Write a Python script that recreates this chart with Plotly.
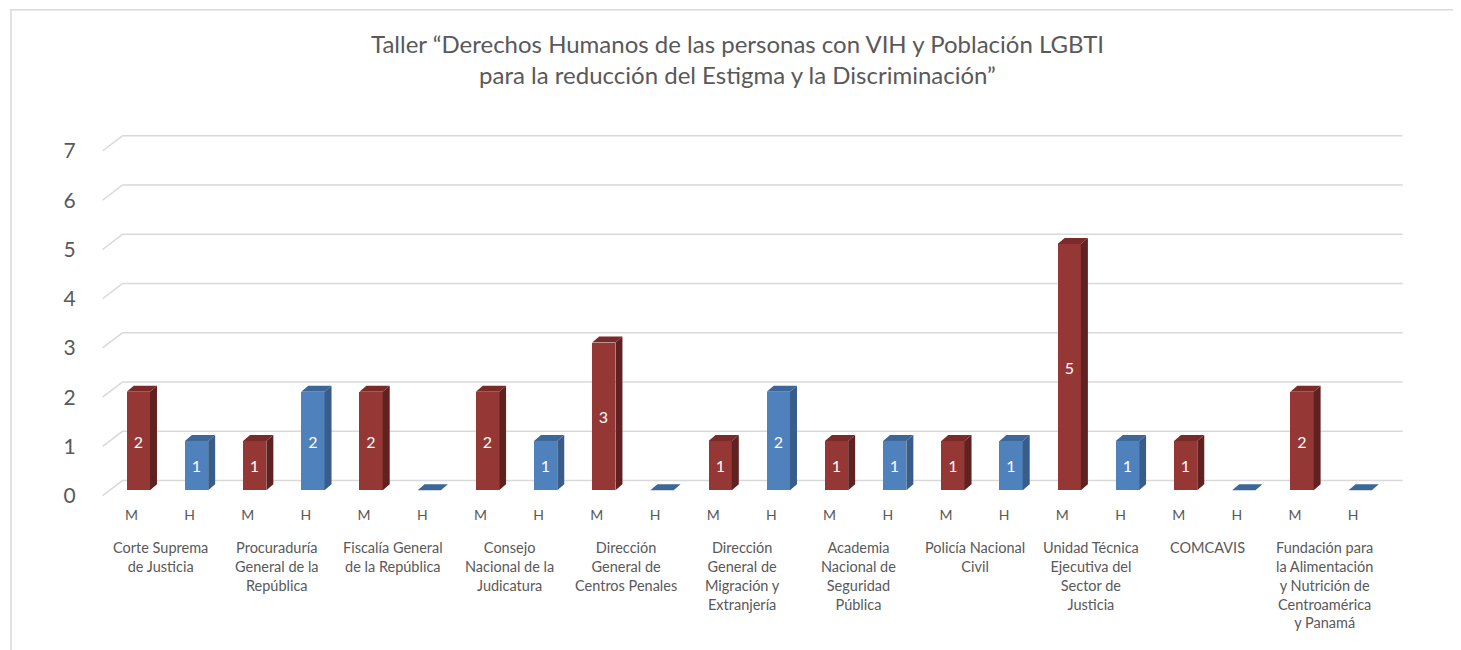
import plotly.graph_objects as go

# ---------------- data ----------------
organizations = [
    "Corte Suprema<br>de Justicia",
    "Procuraduría<br>General de la<br>República",
    "Fiscalía General<br>de la República",
    "Consejo<br>Nacional de la<br>Judicatura",
    "Dirección<br>General de<br>Centros Penales",
    "Dirección<br>General de<br>Migración y<br>Extranjería",
    "Academia<br>Nacional de<br>Seguridad<br>Pública",
    "Policía Nacional<br>Civil",
    "Unidad Técnica<br>Ejecutiva del<br>Sector de<br>Justicia",
    "COMCAVIS",
    "Fundación para<br>la Alimentación<br>y Nutrición de<br>Centroamérica<br>y Panamá",
]
mujeres = [2, 1, 2, 2, 3, 1, 1, 1, 5, 1, 2]   # M
hombres = [1, 2, 0, 1, 0, 2, 1, 1, 1, 0, 0]   # H
sex_labels = ["M", "H"]
y_ticks = [0, 1, 2, 3, 4, 5, 6, 7]
title_line1 = "Taller “Derechos Humanos de las personas con VIH y Población LGBTI"
title_line2 = "para la reducción del Estigma y la Discriminación”"

# ---------------- style ----------------
FONT = "Lato"
TXT = "#595959"
GRID = "#d9d9d9"
M_FRONT, M_SIDE, M_TOP = "#953735", "#5f2220", "#782b29"
H_FRONT, H_SIDE, H_TOP = "#4f81bd", "#385d8a", "#3c6797"
BAR_W = 0.40
DX, DY = 0.12, 0.12          # pseudo-3D depth offsets (data units)
LABEL_SHIFT = -0.12          # category labels sit slightly left (3D projection)

# the page body has an 8px margin, so the figure is slightly smaller
W, H = 1453, 642
ML, MR, MT, MB = 78, 31, 107.5, 144.5
XR = [-0.9, 22.2]
YR = [-0.3, 7.6]
pw, ph = W - ML - MR, H - MT - MB


def px_to_paper_y(py):   # page pixel -> paper y
    return ((H - MB) - (py - 8)) / ph


def px_to_paper_x(px):
    return ((px - 8) - ML) / pw


n = len(organizations)
xm = [2 * i for i in range(n)]
xh = [2 * i + 1 for i in range(n)]

fig = go.Figure()


def faces(xs, vals):
    sx, sy, tx, ty = [], [], [], []
    for x, v in zip(xs, vals):
        l, r = x - BAR_W / 2, x + BAR_W / 2
        if v > 0:
            sx += [r, r + DX, r + DX, r, r, None]
            sy += [0, DY, v + DY, v, 0, None]
        tx += [l, r, r + DX, l + DX, l, None]
        ty += [v, v, v + DY, v + DY, v, None]
    return sx, sy, tx, ty


for xs, vals, front, side, top, name in [
    (xm, mujeres, M_FRONT, M_SIDE, M_TOP, "M"),
    (xh, hombres, H_FRONT, H_SIDE, H_TOP, "H"),
]:
    sx, sy, tx, ty = faces(xs, vals)
    fig.add_trace(go.Scatter(x=sx, y=sy, mode="lines", fill="toself",
                             fillcolor=side, line=dict(width=0), hoverinfo="skip",
                             showlegend=False))
    fig.add_trace(go.Scatter(x=tx, y=ty, mode="lines", fill="toself",
                             fillcolor=top, line=dict(width=0), hoverinfo="skip",
                             showlegend=False))
    fig.add_trace(go.Bar(
        x=xs, y=vals, width=BAR_W, marker=dict(color=front, line=dict(width=0)),
        text=[str(v) if v > 0 else "" for v in vals],
        textposition="inside", insidetextanchor="middle",
        textfont=dict(color="white", size=16, family=FONT),
        name=name, showlegend=False, cliponaxis=False,
    ))

# ---------------- pseudo-3D gridlines ----------------
x_front, x_back, x_end = -0.615, -0.27, 21.73
shapes = []
for t in y_ticks:
    yf, yb = t - 0.111, t + 0.2
    shapes.append(dict(type="line", xref="x", yref="y", x0=x_front, y0=yf, x1=x_back, y1=yb,
                       line=dict(color=GRID, width=1.5), layer="below"))
    shapes.append(dict(type="line", xref="x", yref="y", x0=x_back, y0=yb, x1=x_end, y1=yb,
                       line=dict(color=GRID, width=1.5), layer="below"))

# chart border
shapes.append(dict(type="rect", xref="paper", yref="paper",
                   x0=px_to_paper_x(11), x1=px_to_paper_x(1480),
                   y0=px_to_paper_y(670), y1=px_to_paper_y(9),
                   line=dict(color=GRID, width=1.5), fillcolor="rgba(0,0,0,0)", layer="below"))

annotations = []
for i, org in enumerate(organizations):
    annotations.append(dict(x=2 * i + 0.5 + LABEL_SHIFT, y=px_to_paper_y(538), xref="x",
                            yref="paper", text=org,
                            showarrow=False, yanchor="top", xanchor="center",
                            font=dict(family=FONT, size=14.5, color=TXT), align="center"))

fig.update_layout(
    width=W, height=H,
    margin=dict(l=ML, r=MR, t=MT, b=MB, pad=0),
    paper_bgcolor="white", plot_bgcolor="white",
    title=dict(text=title_line1 + "<br>" + title_line2,
               font=dict(family=FONT, size=24, color=TXT),
               x=(737.5 - 8) / W, xref="container", xanchor="center",
               y=1 - 45 / H, yref="container", yanchor="top"),
    xaxis=dict(range=XR, tickvals=[v + LABEL_SHIFT for v in xm + xh],
               ticktext=[sex_labels[0]] * n + [sex_labels[1]] * n,
               tickfont=dict(family=FONT, size=14, color=TXT),
               showgrid=False, zeroline=False, showline=False, ticks=""),
    yaxis=dict(range=YR, showticklabels=False, showgrid=False, zeroline=False,
               showline=False, ticks=""),
    yaxis2=dict(range=[YR[0] + 0.111, YR[1] + 0.111], overlaying="y", side="left",
                anchor="x", tickvals=y_ticks,
                tickfont=dict(family=FONT, size=21, color=TXT),
                showgrid=False, zeroline=False, showline=False,
                ticks="outside", ticklen=5, tickcolor="rgba(0,0,0,0)"),
    shapes=shapes, annotations=annotations,
    bargap=0, font=dict(family=FONT, color=TXT),
)
# invisible trace to activate yaxis2
fig.add_trace(go.Scatter(x=[XR[0]], y=[0], yaxis="y2", mode="markers",
                         marker=dict(opacity=0), hoverinfo="skip", showlegend=False))

fig.write_html("out.html")
